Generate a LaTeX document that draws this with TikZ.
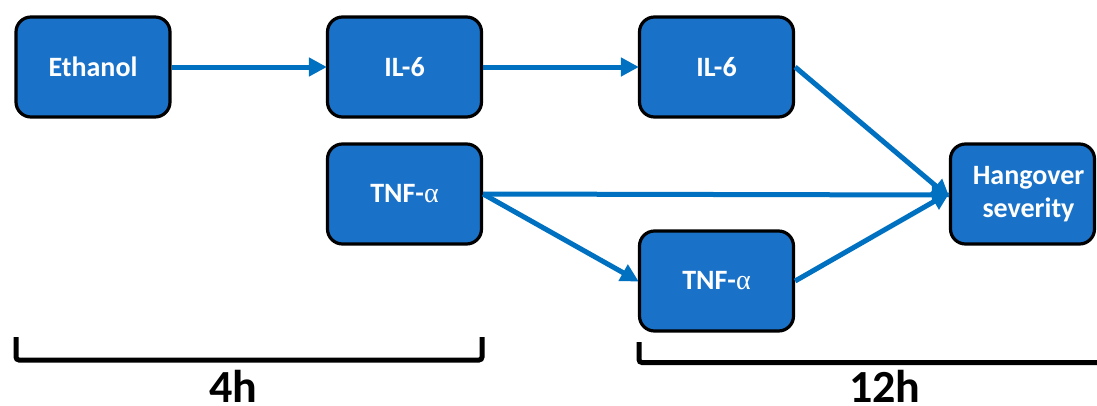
\documentclass[tikz,border=0pt]{standalone}
\usepackage{fontspec}
\setmainfont{Carlito}
\newfontfamily\grk{Liberation Serif}
\usetikzlibrary{arrows.meta}
\definecolor{boxblue}{RGB}{26,114,200}
\definecolor{arrblue}{RGB}{0,112,192}
\tikzset{
  nbox/.style={draw=black, line width=3.2pt, fill=boxblue, rounded corners=15pt,
    minimum width=154pt, minimum height=100pt, text=white, inner sep=0pt,
    font=\fontsize{28}{33}\selectfont\bfseries, align=center},
  conn/.style={draw=arrblue, line width=5pt, -{Triangle[length=18pt,width=18pt]}, shorten >=-1pt},
  brk/.style={draw=black, line width=5pt, rounded corners=3pt},
  tlabel/.style={font=\fontsize{46}{48}\selectfont\bfseries, anchor=base, inner sep=0pt}
}
\newcommand{\alf}{{\grk\mdseries α}}
\begin{document}
\begin{tikzpicture}[x=1pt,y=-1pt]
\useasboundingbox (0,0) rectangle (1097,405);
\node[nbox] (eth) at (93,67) {Ethanol};
\node[nbox] (il6a) at (404.5,67) {IL-6};
\node[nbox] (tnfa) at (404.5,194) {TNF-\alf};
\node[nbox] (il6b) at (716.5,67) {IL-6};
\node[nbox] (tnfb) at (716.5,281) {TNF-\alf};
\node[nbox, minimum width=144pt] (hang) at (1022.5,194) {};
\node[text=white, font=\fontsize{28}{33}\selectfont\bfseries, align=center, inner sep=0pt] (hangtxt) at ([xshift=6pt]hang.center) {Hangover\\severity};
\draw[conn] (eth.east) -- (il6a.west);
\draw[conn] (il6a.east) -- (il6b.west);
\draw[conn] (tnfa.east) -- ([yshift=-1pt]hang.west);
\draw[conn] (tnfa.east) -- (tnfb.west);
\draw[conn] (il6b.east) -- ([yshift=-3pt]hang.west);
\draw[conn] (tnfb.east) -- ([yshift=1pt]hang.west);
\coordinate (b1a) at (16,337);
\coordinate (b1b) at (482,337);
\coordinate (b2a) at (639,342);
\coordinate (b2b) at (1100,362.5);
\draw[brk] (b1a) -- (16,360) -- (482,360) -- (b1b);
\draw[brk] (b2a) -- (639,362.5) -- (b2b);
\node[tlabel] (l4) at (233,402) {4h};
\node[tlabel] (l12) at (885,402) {12h};
\end{tikzpicture}
\end{document}
